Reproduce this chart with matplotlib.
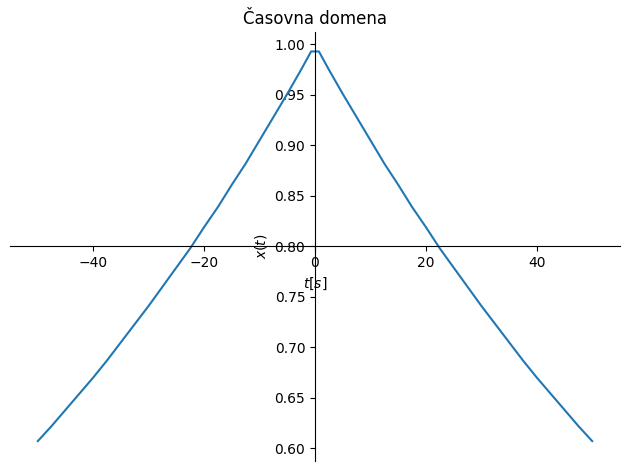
import matplotlib
matplotlib.use('Agg')
import matplotlib.pyplot as plt

# vrednosti odčitane s slike
t_desno = [0.7, 2.5, 5, 7.5, 10, 12.5, 15, 17.5, 20, 22.5, 25,
           27.5, 30, 32.5, 35, 37.5, 40, 42.5, 45, 47.5, 50]
x_desno = [0.993, 0.975, 0.951, 0.928, 0.905, 0.882, 0.861, 0.839, 0.819, 0.798, 0.779,
           0.760, 0.741, 0.723, 0.705, 0.687, 0.670, 0.654, 0.638, 0.622, 0.607]

t = [-v for v in t_desno[::-1]] + t_desno
x = x_desno[::-1] + x_desno

fig = plt.figure(figsize=(6.3, 4.7), dpi=100)
ax = fig.add_axes([0.016, 0.02, 0.968, 0.912])
ax.plot(t, x, color='#1f77b4', linewidth=1.5)
ax.spines['left'].set_position('center')
ax.spines['bottom'].set_position('center')
ax.spines['right'].set_color('none')
ax.spines['top'].set_color('none')
ax.xaxis.set_ticks_position('bottom')
ax.yaxis.set_ticks_position('left')
ax.set_xlabel('$t[s]$')
ax.set_ylabel('$x(t)$')
ax.set_title('Časovna domena')
fig.savefig('out.png')
